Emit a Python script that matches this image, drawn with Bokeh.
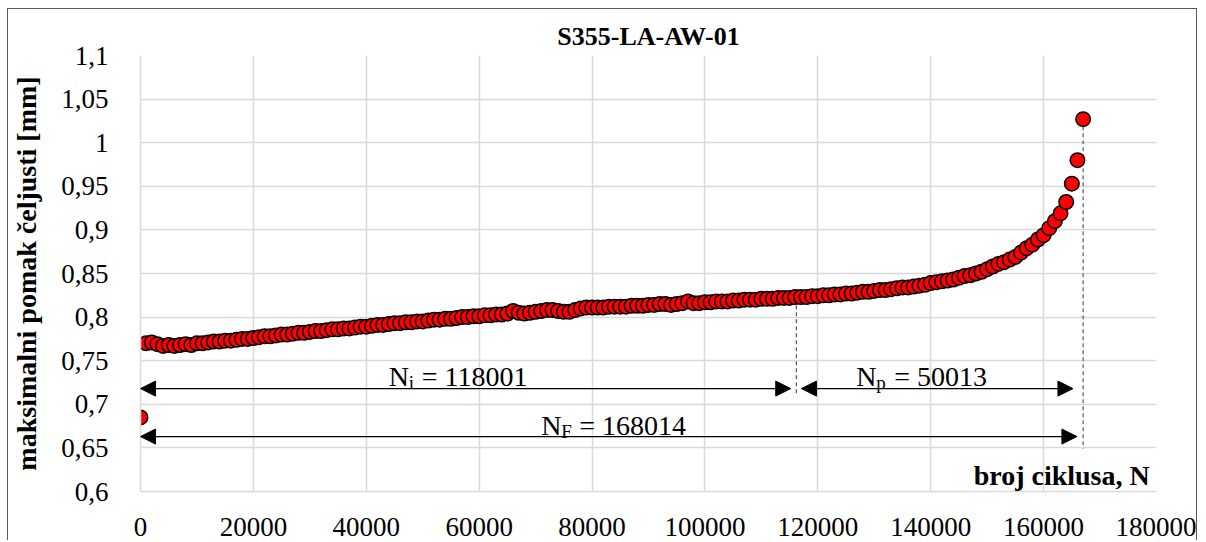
from bokeh.plotting import figure
from bokeh.models import (Range1d, FixedTicker, NumeralTickFormatter, CustomJSTickFormatter,
                          Arrow, NormalHead, Label)
from bokeh.embed import file_html
from bokeh.resources import INLINE
from bokeh.core.properties import value

# ---------------- data ----------------
cycles = [0] + [1000 * k for k in range(1, 168)]
displacement = [
    0.685,
    0.770, 0.771, 0.769, 0.767, 0.768, 0.767, 0.768, 0.769, 0.768, 0.770,
    0.770, 0.771, 0.772, 0.772, 0.773, 0.773, 0.774, 0.775, 0.775, 0.776,
    0.777, 0.778, 0.778, 0.779, 0.780, 0.780, 0.781, 0.782, 0.782, 0.783,
    0.784, 0.784, 0.785, 0.786, 0.786, 0.787, 0.787, 0.788, 0.789, 0.789,
    0.790, 0.791, 0.791, 0.792, 0.793, 0.793, 0.794, 0.794, 0.795, 0.795,
    0.796, 0.797, 0.797, 0.798, 0.798, 0.799, 0.800, 0.800, 0.801, 0.801,
    0.802, 0.802, 0.803, 0.803, 0.804, 0.807, 0.805, 0.804, 0.805, 0.806,
    0.807, 0.808, 0.808, 0.807, 0.806, 0.806, 0.808, 0.810, 0.811, 0.811,
    0.811, 0.811, 0.812, 0.812, 0.812, 0.812, 0.813, 0.813, 0.813, 0.814,
    0.814, 0.815, 0.815, 0.814, 0.815, 0.816, 0.818, 0.816, 0.816, 0.817,
    0.817, 0.818, 0.818, 0.818, 0.819, 0.819, 0.820, 0.820, 0.820, 0.821,
    0.821, 0.821, 0.822, 0.822, 0.822, 0.823, 0.823, 0.823, 0.824, 0.824,
    0.825, 0.825, 0.826, 0.826, 0.827, 0.827, 0.828, 0.829, 0.829, 0.830,
    0.831, 0.831, 0.832, 0.833, 0.834, 0.834, 0.835, 0.836, 0.837, 0.839,
    0.840, 0.841, 0.842, 0.843, 0.845, 0.847, 0.848, 0.850, 0.852, 0.855,
    0.858, 0.861, 0.863, 0.866, 0.869, 0.874, 0.879, 0.883, 0.889, 0.894,
    0.902, 0.910, 0.919, 0.932, 0.953, 0.980, 1.027,
]

x_ticks = [0, 20000, 40000, 60000, 80000, 100000, 120000, 140000, 160000, 180000]
y_ticks = [0.6, 0.65, 0.7, 0.75, 0.8, 0.85, 0.9, 0.95, 1.0, 1.05, 1.1]

title_text = "S355-LA-AW-01"
y_label = "maksimalni pomak čeljusti [mm]"
x_label = "broj ciklusa, N"

# annotation values (cycles, mm)
Ni_line_x = 116200
Np_end_x = 165200
NF_end_x = 165900
NF_line_x = 167000
arrow_y_top = 0.718
arrow_y_bot = 0.663
labels = [
    # x, y, main, sub, rest, offset of rest
    (43980, 0.732, "N", "i", "= 118001", 33),
    (126800, 0.732, "N", "p", "= 50013", 38),
    (71000, 0.676, "N", "F", "= 168014", 38),
]

FONT = "Liberation Serif"
BORDER = "1px solid #595959"

p = figure(width=1190, height=532, x_range=Range1d(0, 180000), y_range=Range1d(0.6, 1.1),
           output_backend="svg", toolbar_location=None,
           min_border_left=129, min_border_right=42, min_border_top=46, min_border_bottom=50)
p.styles = {"margin-left": "7px", "margin-top": "8px",
            "border-left": BORDER, "border-top": BORDER, "border-right": BORDER}

p.title.text = title_text
p.title.align = "center"
p.title.text_font = FONT
p.title.text_font_size = "26px"
p.title.text_font_style = "bold"
p.title.text_color = "black"

p.outline_line_color = None
p.background_fill_color = "white"
p.border_fill_color = "white"

p.xaxis.ticker = FixedTicker(ticks=x_ticks)
p.yaxis.ticker = FixedTicker(ticks=y_ticks)
p.xaxis.formatter = NumeralTickFormatter(format="0")
p.yaxis.formatter = CustomJSTickFormatter(
    code="var s = parseFloat(tick.toFixed(2)).toString(); return s.replace('.', ',');")
for ax in (p.xaxis, p.yaxis):
    ax.major_label_text_font = FONT
    ax.major_label_text_font_size = "27px"
    ax.major_label_text_color = "black"
    ax.axis_line_color = "#d9d9d9"
    ax.axis_line_width = 1.5
    ax.major_tick_line_color = None
    ax.minor_tick_line_color = None
p.xaxis.major_label_standoff = 20
p.yaxis.major_label_standoff = 26

p.yaxis.axis_label = y_label
p.yaxis.axis_label_text_font = FONT
p.yaxis.axis_label_text_font_size = "28px"
p.yaxis.axis_label_text_font_style = "bold"
p.yaxis.axis_label_text_color = "black"
p.yaxis.axis_label_standoff = 16

p.xgrid.ticker = FixedTicker(ticks=x_ticks)
p.ygrid.ticker = FixedTicker(ticks=y_ticks)
p.grid.grid_line_color = "#d9d9d9"
p.grid.grid_line_width = 1.5

# dashed marker lines
p.segment(x0=[Ni_line_x, NF_line_x], y0=[0.8215, 1.027], x1=[Ni_line_x, NF_line_x], y1=[0.7124, 0.649],
          line_color="#595959", line_width=1.2, line_dash="4 3")

# data points
p.scatter(cycles, displacement, size=14.5, fill_color="#ff0000", line_color="black", line_width=1.5)

# arrows
def head():
    return NormalHead(size=15, fill_color="black", line_color="black", line_width=1)

p.add_layout(Arrow(start=head(), end=head(), x_start=0, y_start=arrow_y_top, x_end=Ni_line_x - 1000,
                   y_end=arrow_y_top, line_color="black", line_width=1.3))
p.add_layout(Arrow(start=head(), end=head(), x_start=Ni_line_x + 900, y_start=arrow_y_top, x_end=Np_end_x,
                   y_end=arrow_y_top, line_color="black", line_width=1.3))
p.add_layout(Arrow(start=head(), end=head(), x_start=0, y_start=arrow_y_bot, x_end=NF_end_x,
                   y_end=arrow_y_bot, line_color="black", line_width=1.3))

for lx, ly, main, sub, rest, off in labels:
    p.text(x=[lx], y=[ly], text=[main], text_font=value(FONT), text_font_size="28px",
           text_align="left", text_baseline="alphabetic", text_color="black")
    p.text(x=[lx], y=[ly], text=[sub], x_offset=20, y_offset=6, text_font=value(FONT),
           text_font_size="19px", text_align="left", text_baseline="alphabetic", text_color="black")
    p.text(x=[lx], y=[ly], text=[rest], x_offset=off, text_font=value(FONT), text_font_size="28px",
           text_align="left", text_baseline="alphabetic", text_color="black")

# x-axis label inside the plot area
p.add_layout(Label(x=178800, y=0.6183, text=x_label, text_font=FONT, text_font_size="28px",
                   text_font_style="bold", text_align="right", text_baseline="middle",
                   text_color="black"))

open("out.html", "w").write(file_html(p, INLINE))
